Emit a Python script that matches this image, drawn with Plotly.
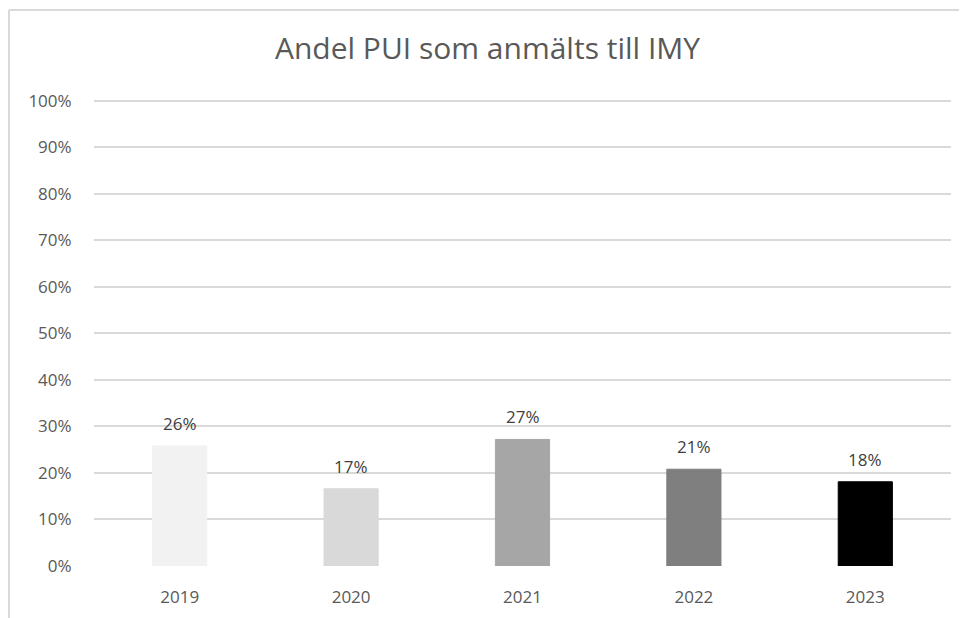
import plotly.graph_objects as go

years = ["2019", "2020", "2021", "2022", "2023"]
shares = [0.258, 0.166, 0.272, 0.208, 0.181]
bar_colors = ["#F2F2F2", "#D9D9D9", "#A6A6A6", "#7F7F7F", "#000000"]
y_ticks = [0, 0.1, 0.2, 0.3, 0.4, 0.5, 0.6, 0.7, 0.8, 0.9, 1.0]
y_tick_labels = ["0%", "10%", "20%", "30%", "40%", "50%", "60%", "70%", "80%", "90%", "100%"]
title_text = "Andel PUI som anmälts till IMY"

FONT = "Open Sans"
GREY = "#595959"
W, H = 959, 610

fig = go.Figure()
fig.add_trace(go.Bar(
    x=years, y=shares,
    marker=dict(color=bar_colors, line=dict(color=bar_colors, width=1)),
    hoverinfo="skip",
))

for i, v in enumerate(shares):
    fig.add_annotation(
        x=i, y=v, xref="x", yref="y",
        text=f"{round(v*100)}%", showarrow=False,
        yanchor="bottom", yshift=9,
        font=dict(family=FONT, size=17, color="#404040"),
    )

fig.update_layout(
    width=W, height=H,
    margin=dict(l=86, r=16, t=88, b=52, autoexpand=False),
    paper_bgcolor="white", plot_bgcolor="white",
    bargap=0.684,
    showlegend=False,
    title=dict(text=title_text, x=0.5, xanchor="center", y=1 - 40/H, yanchor="middle",
               font=dict(family=FONT, size=30, color=GREY)),
    xaxis=dict(type="category", range=[-0.5, 4.5], autorange=False,
               showgrid=False, showline=False, zeroline=False,
               tickfont=dict(family=FONT, size=17, color=GREY),
               ticks="outside", ticklen=16, tickcolor="rgba(0,0,0,0)"),
    yaxis=dict(range=[0, 1.01], autorange=False, tickvals=y_ticks, ticktext=y_tick_labels,
               showgrid=True, gridcolor="#D9D9D9", gridwidth=1.5,
               zeroline=False, showline=False,
               ticks="outside", ticklen=18, tickcolor="rgba(0,0,0,0)",
               tickfont=dict(family=FONT, size=17, color=GREY)),
    shapes=[
        dict(type="line", xref="paper", yref="paper",
             x0=-0.0992, x1=-0.0992, y0=-0.2, y1=1.183, line=dict(color="#D9D9D9", width=2)),
        dict(type="line", xref="paper", yref="paper",
             x0=-0.0992, x1=1.2, y0=1.183, y1=1.183, line=dict(color="#D9D9D9", width=2)),
    ],
)

fig.write_html("out.html")
